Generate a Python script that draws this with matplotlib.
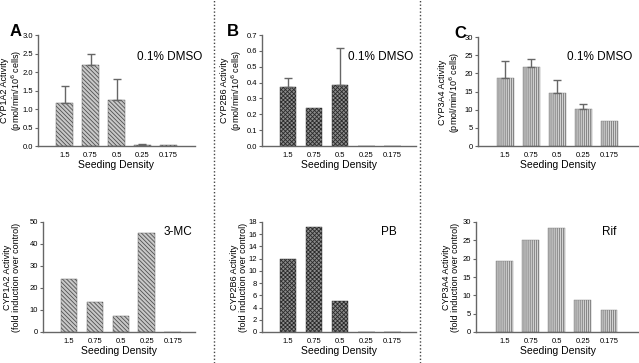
import numpy as np
from matplotlib import pyplot as plt
import matplotlib as mpl

densities = ['1.5', '0.75', '0.5', '0.25', '0.175']

# basal activity (0.1% DMSO), mean and upper error
a_dmso = [1.15, 2.2, 1.25, 0.02, 0.02]
a_dmso_err = [0.48, 0.3, 0.55, 0.04, 0.0]
b_dmso = [0.375, 0.24, 0.385, 0.0, 0.0]
b_dmso_err = [0.055, 0.0, 0.235, 0.0, 0.0]
c_dmso = [18.8, 21.7, 14.5, 10.1, 7.0]
c_dmso_err = [4.5, 2.3, 3.7, 1.4, 0.0]

# fold induction over control
a_ind = [24.0, 13.7, 7.5, 44.8, 0.0]
b_ind = [12.0, 17.2, 5.0, 0.0, 0.0]
c_ind = [19.5, 25.0, 28.5, 8.8, 5.9]

mpl.rcParams['font.family'] = 'Liberation Sans'
mpl.rcParams['hatch.linewidth'] = 0.6

W, H = 639, 363
fig = plt.figure(figsize=(W / 100, H / 100), dpi=100)


def px_axes(left, top, right, bottom):
    return fig.add_axes([left / W, 1 - bottom / H, (right - left) / W, (bottom - top) / H])


def draw(ax, vals, err, xlim, ylim, yticks, fmt, hatch, hcol, fcol):
    x = np.arange(len(vals))
    ax.bar(x, vals, width=0.65, color=fcol, edgecolor=hcol, hatch=hatch, linewidth=0.3)
    if err is not None:
        e = np.array(err)
        m = e > 0
        ax.errorbar(x[m], np.array(vals)[m], yerr=[np.zeros(m.sum()), e[m]],
                    fmt='none', ecolor='#666666', elinewidth=1.0, capsize=3, capthick=1.0)
    ax.set_xlim(*xlim)
    ax.set_ylim(*ylim)
    ax.set_yticks(yticks)
    ax.set_yticklabels([fmt.format(t) for t in yticks])
    ax.set_xticks(x)
    ax.set_xticklabels(densities)
    ax.tick_params(axis='x', length=0, labelsize=5.5, pad=4)
    ax.tick_params(axis='y', length=2, width=0.8, labelsize=5.5, pad=1.5, color='#666666')
    for s in ['top', 'right']:
        ax.spines[s].set_visible(False)
    for s in ['left', 'bottom']:
        ax.spines[s].set_color('#666666')
        ax.spines[s].set_linewidth(1.0)
    ax.set_xlabel('Seeding Density', fontsize=7.5, labelpad=1)


unit = '(pmol/min/10$^6$ cells)'
fold = '(fold induction over control)'

hatch_a = ('\\\\\\\\\\\\\\\\', '#505050', '#c8c8c8')
hatch_b = ('xxxxxxxx', '#2a2a2a', '#8c8c8c')
hatch_c = ('||||||||', '#7a7a7a', '#d2d2d2')

ax = px_axes(38, 35, 195, 146)
draw(ax, a_dmso, a_dmso_err, (-1.02, 5.02), (0, 3.0), [0, 0.5, 1.0, 1.5, 2.0, 2.5, 3.0], '{:.1f}', *hatch_a)
ax = px_axes(262, 35, 416, 146)
draw(ax, b_dmso, b_dmso_err, (-1.0, 4.92), (0, 0.7), [0, 0.1, 0.2, 0.3, 0.4, 0.5, 0.6, 0.7], '{:.1f}', *hatch_b)
ax = px_axes(478, 37, 639, 146)
draw(ax, c_dmso, c_dmso_err, (-1.04, 5.15), (0, 30), [0, 5, 10, 15, 20, 25, 30], '{:g}', *hatch_c)

ax = px_axes(43, 222, 195, 332)
draw(ax, a_ind, None, (-1.0, 4.85), (0, 50), [0, 10, 20, 30, 40, 50], '{:g}', *hatch_a)
ax = px_axes(262, 222, 416, 332)
draw(ax, b_ind, None, (-1.0, 4.92), (0, 18), [0, 2, 4, 6, 8, 10, 12, 14, 16, 18], '{:g}', *hatch_b)
ax = px_axes(476, 222, 639, 332)
draw(ax, c_ind, None, (-1.1, 5.15), (0, 30), [0, 5, 10, 15, 20, 25, 30], '{:g}', *hatch_c)

# y axis titles
for yx, yy, s in [(12, 90, 'CYP1A2 Activity\n' + unit), (232, 90, 'CYP2B6 Activity\n' + unit),
                  (450, 92, 'CYP3A4 Activity\n' + unit), (12, 277, 'CYP1A2 Activity\n' + fold),
                  (239, 277, 'CYP2B6 Activity\n' + fold), (451, 277, 'CYP3A4 Activity\n' + fold)]:
    fig.text(yx / W, 1 - yy / H, s, fontsize=6.5, rotation=90, ha='center', va='center',
             multialignment='center', linespacing=1.0)

# treatment labels
for tx, ty, s in [(170, 57, '0.1% DMSO'), (381, 57, '0.1% DMSO'), (600, 57, '0.1% DMSO'),
                  (178, 232, '3-MC'), (389, 232, 'PB'), (609, 232, 'Rif')]:
    fig.text(tx / W, 1 - ty / H, s, fontsize=8.5, ha='center', va='center')

# panel letters
for lx, ly, s in [(16, 32, 'A'), (233, 32, 'B'), (460, 33, 'C')]:
    fig.text(lx / W, 1 - ly / H, s, fontsize=12, fontweight='bold', ha='center', va='center')

# dotted separators
for sx in [214, 420]:
    fig.add_artist(plt.Line2D([sx / W, sx / W], [0, 1], transform=fig.transFigure,
                              color='#444444', linestyle=(0, (1, 1.5)), linewidth=1.0))

fig.savefig('out.png', dpi=100)
